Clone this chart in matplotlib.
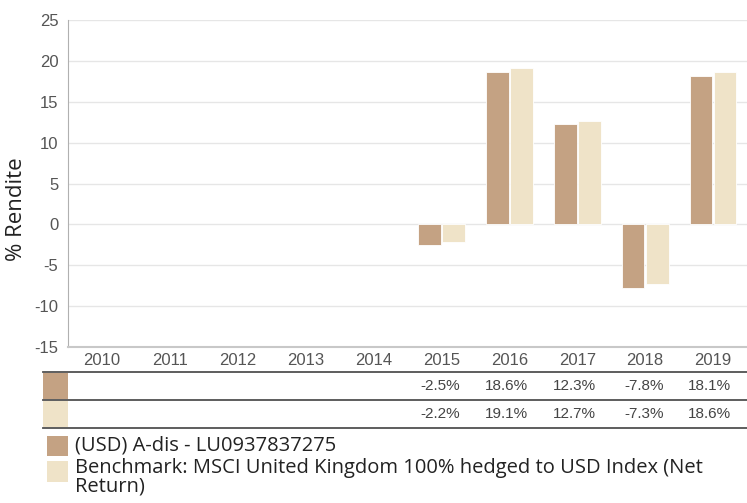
import matplotlib
matplotlib.use("Agg")
import matplotlib.pyplot as plt
import matplotlib.transforms as mtransforms
from matplotlib.patches import Rectangle
from matplotlib.lines import Line2D
import numpy as np

plt.rcParams["axes.unicode_minus"] = False

years = ["2010", "2011", "2012", "2013", "2014", "2015", "2016", "2017", "2018", "2019"]
fund = [None, None, None, None, None, -2.5, 18.6, 12.3, -7.8, 18.1]
bench = [None, None, None, None, None, -2.2, 19.1, 12.7, -7.3, 18.6]
fund_name = "(USD) A-dis - LU0937837275"
bench_name = "Benchmark: MSCI United Kingdom 100% hedged to USD Index (Net\nReturn)"

FUND_C = "#C4A283"
BENCH_C = "#EFE3C8"
W, H = 747, 503

fig = plt.figure(figsize=(7.47, 5.03), dpi=100)
ax = fig.add_axes([68 / W, 1 - 347 / H, 679 / W, 327 / H])

x = np.arange(len(years))
bw = 0.335
fv = [np.nan if v is None else v for v in fund]
bv = [np.nan if v is None else v for v in bench]
ax.bar(x - bw / 2 - 0.01, fv, bw, color=FUND_C, edgecolor="white", linewidth=0.6, zorder=3)
ax.bar(x + bw / 2 + 0.01, bv, bw, color=BENCH_C, edgecolor="white", linewidth=0.6, zorder=3)

ax.set_xlim(-0.5, len(years) - 0.5)
ax.set_ylim(-15, 25)
ax.set_yticks(range(-15, 26, 5))
ax.set_xticks(x)
ax.set_xticklabels(years)
ax.grid(axis="y", color="#e6e6e6", linewidth=1, zorder=0)
for s in ["top", "right"]:
    ax.spines[s].set_visible(False)
ax.spines["left"].set_color("#b0b0b0")
ax.spines["bottom"].set_color("#c8c8c8")
ax.spines["bottom"].set_linewidth(1.5)
ax.tick_params(length=0, labelsize=12, colors="#555555", pad=4)
ax.tick_params(axis="y", pad=7)
for lab in ax.get_xticklabels() + ax.get_yticklabels():
    lab.set_family("Liberation Sans")

def fy(py):
    return 1 - py / H

fig.text(17 / W, fy(209), "% Rendite", rotation=90, fontsize=16, family="Open Sans",
         color="#222222", ha="center", va="center")

# table below the chart
tr = mtransforms.blended_transform_factory(ax.transData, fig.transFigure)
for py in [372, 400, 428]:
    fig.add_artist(Line2D([43 / W, 1], [fy(py), fy(py)], color="#505050", linewidth=1.3))
for row, (vals, col) in enumerate([(fund, FUND_C), (bench, BENCH_C)]):
    top = 372 + row * 28
    fig.add_artist(Rectangle((43 / W, fy(top + 27)), 25 / W, 26 / H, transform=fig.transFigure,
                             color=col, linewidth=0))
    for i, v in enumerate(vals):
        if v is not None:
            fig.text(i + 0.27, fy(top + 14), f"{v:.1f}%", transform=tr, ha="right", va="center",
                     fontsize=11, color="#444444", family="Liberation Sans")

# legend
fig.add_artist(Rectangle((47 / W, fy(456)), 21 / W, 20 / H, transform=fig.transFigure,
                         color=FUND_C, linewidth=0))
fig.text(75 / W, fy(445), fund_name, fontsize=14.5, family="Open Sans", color="#222222", va="center")
fig.add_artist(Rectangle((47 / W, fy(482)), 21 / W, 21 / H, transform=fig.transFigure,
                         color=BENCH_C, linewidth=0))
fig.text(75 / W, fy(458), bench_name, fontsize=14.5, family="Open Sans", color="#222222", va="top",
         linespacing=0.92)

fig.savefig("out.png", dpi=100)
